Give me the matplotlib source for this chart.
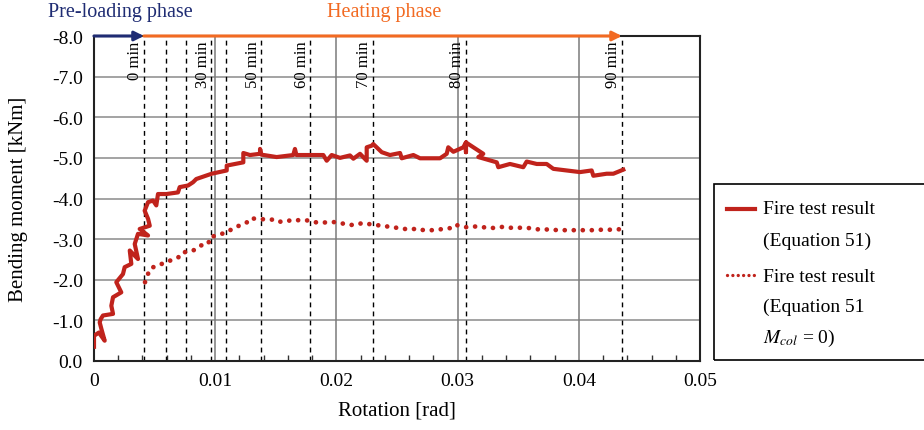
import matplotlib
matplotlib.use("Agg")
import matplotlib.pyplot as plt
from matplotlib.lines import Line2D
from matplotlib.patches import Rectangle

plt.rcParams['font.family'] = ['Liberation Serif', 'DejaVu Serif']
plt.rcParams['mathtext.fontset'] = 'stix'

# fire test result (Equation 51), solid line
solid_rot = [0.0, 0.0, 0.0004, 0.00088, 0.0006, 0.00047, 0.00055, 0.00074, 0.00157, 0.00143,
             0.00157, 0.00225, 0.00184, 0.00239, 0.00253, 0.00308, 0.00295, 0.00363, 0.00336, 0.00363,
             0.00446, 0.00377, 0.0046, 0.00446, 0.00418, 0.00446, 0.00487, 0.00514, 0.00528, 0.00597,
             0.00693, 0.00707, 0.00776, 0.00817, 0.00844, 0.00971, 0.01095, 0.01095, 0.01232, 0.01232,
             0.01287, 0.0137, 0.0137, 0.0138, 0.01507, 0.01644, 0.01658, 0.0167, 0.01892, 0.0192,
             0.01961, 0.0203, 0.02112, 0.0214, 0.02195, 0.0225, 0.0225, 0.02291, 0.02304, 0.02374,
             0.02442, 0.02525, 0.02539, 0.02635, 0.0269, 0.02855, 0.0291, 0.02923, 0.02965, 0.03047,
             0.03069, 0.03069, 0.03069, 0.03212, 0.03171, 0.03323, 0.03336, 0.03432, 0.03542, 0.0357,
             0.03653, 0.03735, 0.0379, 0.039, 0.0401, 0.04106, 0.0412, 0.0423, 0.04285, 0.04367]
solid_mom = [-0.35, -0.62, -0.7, -0.5, -0.8, -0.95, -1.03, -1.12, -1.16, -1.36,
             -1.57, -1.69, -1.94, -2.14, -2.31, -2.39, -2.72, -2.51, -2.88, -3.13,
             -3.09, -3.25, -3.33, -3.5, -3.7, -3.91, -3.95, -3.83, -4.11, -4.11,
             -4.15, -4.28, -4.32, -4.40, -4.48, -4.61, -4.69, -4.81, -4.89, -5.12,
             -5.07, -5.10, -5.22, -5.08, -5.02, -5.07, -5.22, -5.07, -5.07, -4.93,
             -5.07, -5.0, -5.06, -4.98, -5.10, -4.93, -5.26, -5.30, -5.34, -5.14,
             -5.07, -5.12, -4.99, -5.07, -4.99, -4.99, -5.10, -5.26, -5.15, -5.26,
             -5.38, -5.14, -5.38, -5.10, -5.02, -4.89, -4.77, -4.85, -4.77, -4.91,
             -4.85, -4.85, -4.73, -4.69, -4.65, -4.69, -4.56, -4.61, -4.61, -4.71]

# fire test result (Equation 51, M_col = 0), dotted line
dot_rot = [0.00421, 0.00435, 0.00462, 0.00517, 0.00559, 0.00627, 0.00696, 0.0071, 0.00751, 0.00819,
           0.00875, 0.00943, 0.00957, 0.01012, 0.01054, 0.01095, 0.01163, 0.01232, 0.0126, 0.01287,
           0.01356, 0.01425, 0.01479, 0.01507, 0.01576, 0.01644, 0.017, 0.01768, 0.01837, 0.0192,
           0.01988, 0.0203, 0.02098, 0.02153, 0.02222, 0.02304, 0.02387, 0.02456, 0.02539, 0.0258,
           0.02649, 0.02676, 0.02745, 0.02786, 0.02855, 0.02937, 0.02965, 0.03034, 0.03075, 0.0313,
           0.03185, 0.03253, 0.03323, 0.03364, 0.03418, 0.03488, 0.03556, 0.03597, 0.03653, 0.03707,
           0.03776, 0.03845, 0.03886, 0.03941, 0.03996, 0.04065, 0.04106, 0.04175, 0.04244, 0.04326,
           0.0435]
dot_mom = [-1.94, -2.06, -2.27, -2.35, -2.39, -2.47, -2.55, -2.64, -2.68, -2.72,
           -2.84, -2.88, -3.05, -3.09, -3.13, -3.17, -3.29, -3.37, -3.41, -3.51,
           -3.50, -3.48, -3.48, -3.43, -3.43, -3.48, -3.46, -3.46, -3.41, -3.41,
           -3.42, -3.40, -3.35, -3.35, -3.40, -3.35, -3.33, -3.29, -3.27, -3.24,
           -3.25, -3.22, -3.23, -3.22, -3.24, -3.27, -3.35, -3.33, -3.29, -3.31,
           -3.31, -3.27, -3.28, -3.30, -3.28, -3.28, -3.28, -3.27, -3.24, -3.25,
           -3.22, -3.23, -3.22, -3.22, -3.22, -3.22, -3.22, -3.23, -3.23, -3.24,
           -3.25]

# time markers
time_rot = [0.00412, 0.0059, 0.00755, 0.00969, 0.01092, 0.0138, 0.01786, 0.0230, 0.03068, 0.04356]
time_labels = ["0 min", "", "", "30 min", "", "50 min", "60 min", "70 min", "80 min", "90 min"]

x_ticks = [0, 0.01, 0.02, 0.03, 0.04, 0.05]
x_ticklabels = ["0", "0.01", "0.02", "0.03", "0.04", "0.05"]
y_ticks = [0, -1, -2, -3, -4, -5, -6, -7, -8]
y_ticklabels = ["0.0", "-1.0", "-2.0", "-3.0", "-4.0", "-5.0", "-6.0", "-7.0", "-8.0"]

red = "#C0231C"
navy = "#1F2C73"
orange = "#F26A22"

fig = plt.figure(figsize=(9.24, 4.31), dpi=100)
ax = fig.add_axes([94 / 924, 1 - 362 / 431, 606 / 924, 325 / 431])

ax.set_xlim(0, 0.05)
ax.set_ylim(0, -8)

for y in y_ticks[1:-1]:
    ax.axhline(y, color="#8a8a8a", lw=1.1, zorder=1)
for x in x_ticks[1:-1]:
    ax.axvline(x, color="#7a7a7a", lw=1.1, zorder=1)

for x in time_rot:
    ax.plot([x, x], [0, -8], color="black", lw=1.0, ls=(0, (3.5, 3)), zorder=2)

for x, lab in zip(time_rot, time_labels):
    if lab:
        ax.text(x - 0.00005, -7.88, lab, rotation=90, ha="right", va="top",
                fontsize=12, zorder=3)

ax.plot(solid_rot, solid_mom, color=red, lw=3.0, solid_joinstyle="round", zorder=4)
ax.plot(dot_rot, dot_mom, color=red, lw=3.4, ls=(0, (0.01, 1.9)),
        dash_capstyle="round", zorder=4)

ax.set_xticks(x_ticks)
ax.set_xticklabels(x_ticklabels)
ax.set_yticks(y_ticks)
ax.set_yticklabels(y_ticklabels)
ax.set_xticks([i * 0.002 for i in range(26)], minor=True)
ax.tick_params(axis="both", which="major", direction="in", length=0, labelsize=14, pad=8)
ax.tick_params(axis="x", which="minor", direction="in", length=4, width=1, color="#333333")
ax.tick_params(axis="x", which="major", pad=8)

for s in ax.spines.values():
    s.set_linewidth(1.5)
    s.set_color("#222222")

ax.set_xlabel("Rotation [rad]", fontsize=15, labelpad=8)
ax.set_ylabel("Bending moment [kNm]", fontsize=15, labelpad=17)

# phase arrows along the top
ax.annotate("", xy=(time_rot[0], -8), xytext=(0, -8), annotation_clip=False,
            arrowprops=dict(arrowstyle="-|>", color=navy, lw=2.2, mutation_scale=14,
                            shrinkA=0, shrinkB=0), zorder=6)
ax.annotate("", xy=(time_rot[-1], -8), xytext=(time_rot[0], -8), annotation_clip=False,
            arrowprops=dict(arrowstyle="-|>", color=orange, lw=2.2, mutation_scale=14,
                            shrinkA=0, shrinkB=0), zorder=6)
fig.text(48 / 924, 1 - 13 / 431, "Pre-loading phase", color=navy, fontsize=14.5,
         ha="left", va="center")
fig.text(384 / 924, 1 - 13 / 431, "Heating phase", color=orange, fontsize=14.5,
         ha="center", va="center")

# legend box
fig.patches.append(Rectangle((714 / 924, 1 - 361 / 431), 230 / 924, 176 / 431,
                             transform=fig.transFigure, fill=False, edgecolor="black",
                             lw=1.2, clip_on=False))
fig.lines.append(Line2D([727 / 924, 755 / 924], [1 - 210 / 431, 1 - 210 / 431],
                        transform=fig.transFigure, color=red, lw=3.0))
fig.lines.append(Line2D([727 / 924, 755 / 924], [1 - 276 / 431, 1 - 276 / 431],
                        transform=fig.transFigure, color=red, lw=2.4,
                        ls=(0, (0.01, 1.6)), dash_capstyle="round"))
leg_rows = [(210, "Fire test result"), (241, "(Equation 51)"), (277, "Fire test result"),
            (307, "(Equation 51"), (338, r"$M_{col}$ = 0)")]
for py, txt in leg_rows:
    fig.text(763 / 924, 1 - py / 431, txt, fontsize=14, ha="left", va="center")

fig.savefig("out.png", dpi=100)
